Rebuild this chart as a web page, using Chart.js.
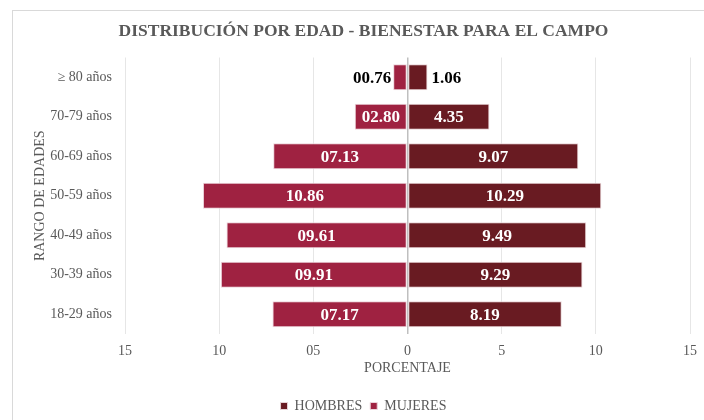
<!DOCTYPE html>
<html>
<head>
<meta charset="utf-8">
<script src="https://cdn.jsdelivr.net/npm/chart.js@4.4.1/dist/chart.umd.min.js"></script>
<style>
  html, body { margin: 0; padding: 0; background: #ffffff; overflow: hidden; }
  #wrap { position: relative; width: 704px; height: 420px; overflow: hidden; }
  #frame {
    position: absolute; left: 12px; top: 10px; width: 700px; height: 420px;
    border: 1px solid #d9d9d9; box-sizing: border-box; pointer-events: none;
  }
  canvas { position: absolute; left: 0; top: 0; }
</style>
</head>
<body>
<div id="wrap">
  <div id="frame"></div>
  <canvas id="pyramid" width="706" height="423"></canvas>
</div>
<script>
// Age ranges, top to bottom
const ageRanges = ['\u2265 80 años', '70-79 años', '60-69 años', '50-59 años', '40-49 años', '30-39 años', '18-29 años'];
// Percentages per sex
const hombres = [1.06, 4.35, 9.07, 10.29, 9.49, 9.29, 8.19];
const mujeres = [0.76, 2.80, 7.13, 10.86, 9.61, 9.91, 7.17];
// Axis ticks
const xTicks = [-15, -10, -5, 0, 5, 10, 15];

const SERIF = '"Liberation Serif", "Times New Roman", serif';
const GRAY_TEXT = '#595959';
const COLOR_HOMBRES = '#691b22';
const COLOR_MUJERES = '#9f2241';

function fmtMujeres(v) {
    const s = Math.abs(v).toFixed(2);
    return s.length < 5 ? '0' + s : s;
}

// Draw value labels inside bars (or outside when the bar is too narrow)
const barLabels = {
    id: 'barLabels',
    afterDatasetsDraw(chart) {
        const ctx = chart.ctx;
        ctx.save();
        ctx.font = 'bold 17px ' + SERIF;
        ctx.textBaseline = 'middle';
        chart.data.datasets.forEach((ds, di) => {
            const meta = chart.getDatasetMeta(di);
            meta.data.forEach((bar, i) => {
                const v = ds.data[i];
                const text = di === 1 ? fmtMujeres(v) : v.toFixed(2);
                const w = ctx.measureText(text).width;
                const barW = Math.abs(bar.x - bar.base);
                if (barW > w + 8) {
                    ctx.fillStyle = '#ffffff';
                    ctx.textAlign = 'center';
                    ctx.fillText(text, (bar.x + bar.base) / 2, bar.y + 1);
                } else {
                    ctx.fillStyle = '#000000';
                    if (v < 0) {
                        ctx.textAlign = 'right';
                        ctx.fillText(text, bar.x - 2, bar.y + 1);
                    } else {
                        ctx.textAlign = 'left';
                        ctx.fillText(text, bar.x + 4, bar.y + 1);
                    }
                }
            });
        });
        ctx.restore();
    }
};

new Chart(document.getElementById('pyramid'), {
    type: 'bar',
    data: {
        labels: ageRanges,
        datasets: [
            {
                label: 'HOMBRES',
                data: hombres,
                backgroundColor: COLOR_HOMBRES,
                borderColor: '#e8d3d6',
                borderWidth: 1,
                borderSkipped: false,
                categoryPercentage: 0.66,
                barPercentage: 1
            },
            {
                label: 'MUJERES',
                data: mujeres.map(v => -v),
                backgroundColor: COLOR_MUJERES,
                borderColor: '#ecd3da',
                borderWidth: 1,
                borderSkipped: false,
                categoryPercentage: 0.66,
                barPercentage: 1
            }
        ]
    },
    options: {
        indexAxis: 'y',
        responsive: false,
        animation: false,
        layout: { padding: { left: 21, right: 0, top: 0, bottom: 0 } },
        plugins: {
            title: {
                display: true,
                text: 'DISTRIBUCIÓN POR EDAD - BIENESTAR PARA EL CAMPO',
                color: GRAY_TEXT,
                font: { family: SERIF, size: 17.5, weight: 'bold' },
                padding: { top: 21, bottom: 15.5 }
            },
            legend: {
                position: 'bottom',
                labels: {
                    color: GRAY_TEXT,
                    font: { family: SERIF, size: 14 },
                    boxWidth: 7,
                    boxHeight: 7,
                    padding: 8
                }
            },
            tooltip: { enabled: false }
        },
        scales: {
            x: {
                stacked: true,
                min: -15,
                max: 15,
                afterBuildTicks: function(scale) {
                    scale.ticks = xTicks.map(v => ({ value: v }));
                },
                afterFit: function(scale) {
                    scale.height = 57;
                },
                grid: {
                    color: function(c) {
                        return c.tick && c.tick.value === 0 ? '#bfbfbf' : '#e6e6e6';
                    },
                    lineWidth: function(c) {
                        return c.tick && c.tick.value === 0 ? 1.5 : 1;
                    },
                    drawTicks: false
                },
                border: { display: false },
                ticks: {
                    color: GRAY_TEXT,
                    font: { family: SERIF, size: 14 },
                    padding: 9,
                    callback: function(value) {
                        if (value < 0) {
                            const s = String(Math.abs(value));
                            return s.length < 2 ? '0' + s : s;
                        }
                        return String(value);
                    }
                },
                title: {
                    display: true,
                    text: 'PORCENTAJE',
                    color: GRAY_TEXT,
                    font: { family: SERIF, size: 14 },
                    padding: { top: 2, bottom: 14 }
                }
            },
            y: {
                stacked: true,
                afterFit: function(scale) {
                    scale.width = 104;
                },
                grid: { display: false, drawTicks: false },
                border: { display: false },
                ticks: {
                    color: GRAY_TEXT,
                    font: { family: SERIF, size: 14 },
                    padding: 13
                },
                title: {
                    display: true,
                    text: 'RANGO DE EDADES',
                    color: GRAY_TEXT,
                    font: { family: SERIF, size: 14 },
                    padding: { top: 11, bottom: 4 }
                }
            }
        }
    },
    plugins: [barLabels]
});
</script>
</body>
</html>
